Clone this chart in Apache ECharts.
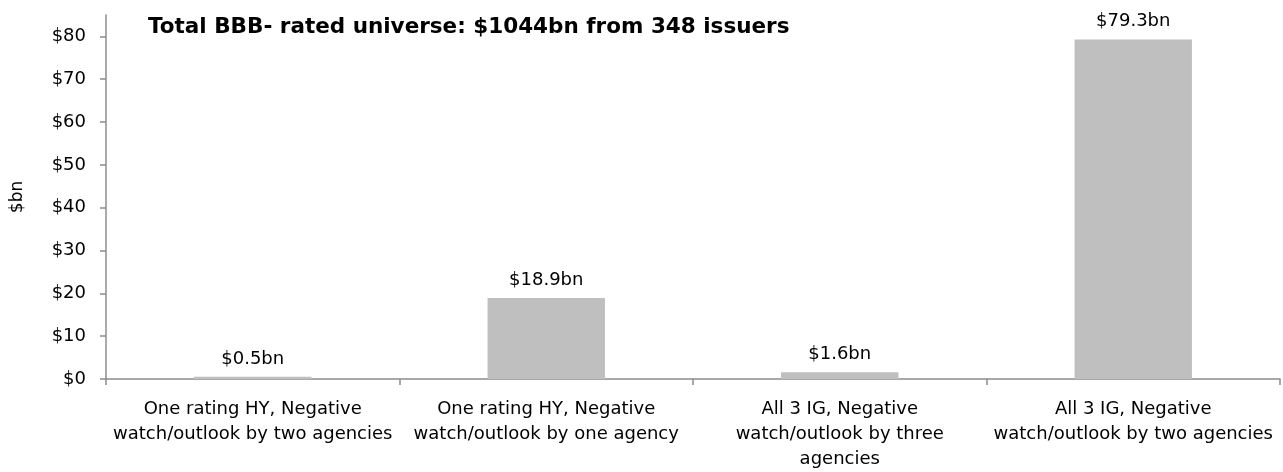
<!DOCTYPE html>
<html>
<head>
<meta charset="utf-8">
<script src="https://cdn.jsdelivr.net/npm/echarts@6/dist/echarts.min.js"></script>
<style>
  html, body { margin: 0; padding: 0; background: #fff; }
  #chart { width: 1283px; height: 472px; }
</style>
</head>
<body>
<div id="chart"></div>
<script>
// Categories of BBB- issuers and the debt outstanding in each bucket ($bn)
const categories = [
  'One rating HY, Negative\nwatch/outlook by two agencies',
  'One rating HY, Negative\nwatch/outlook by one agency',
  'All 3 IG, Negative\nwatch/outlook by three\nagencies',
  'All 3 IG, Negative\nwatch/outlook by two agencies'
];
const amounts = [0.5, 18.9, 1.6, 79.3];
const yTicks = [0, 10, 20, 30, 40, 50, 60, 70, 80];
const titleText = 'Total BBB- rated universe: $1044bn from 348 issuers';

const FONT = 'DejaVu Sans';
const chart = echarts.init(document.getElementById('chart'));
chart.setOption({
  animation: false,
  backgroundColor: '#fff',
  textStyle: { fontFamily: FONT },
  title: {
    text: titleText,
    left: 143,
    top: 11,
    textStyle: { fontFamily: FONT, fontWeight: 'bold', fontSize: 21.5, color: '#000' }
  },
  grid: { left: 106, right: 3, top: 15, bottom: 92 },
  xAxis: {
    type: 'category',
    data: categories,
    axisLine: { lineStyle: { color: '#8c8c8c', width: 1.5 } },
    axisTick: { show: true, length: 6, lineStyle: { color: '#8c8c8c', width: 1.5 } },
    axisLabel: {
      interval: 0,
      color: '#000',
      fontFamily: FONT,
      fontSize: 18,
      lineHeight: 25,
      margin: 18
    }
  },
  yAxis: {
    type: 'value',
    min: 0,
    max: 85,
    interval: 10,
    name: '$bn',
    nameLocation: 'middle',
    nameRotate: 90,
    nameGap: 80,
    nameTextStyle: { color: '#000', fontFamily: FONT, fontSize: 17 },
    splitLine: { show: false },
    axisLine: { show: true, lineStyle: { color: '#8c8c8c', width: 1.5 } },
    axisTick: { show: true, length: 6, lineStyle: { color: '#8c8c8c', width: 1.5 }, customValues: yTicks },
    axisLabel: {
      color: '#000',
      fontFamily: FONT,
      fontSize: 18,
      margin: 20,
      customValues: yTicks,
      formatter: v => '$' + v
    }
  },
  series: [{
    type: 'bar',
    data: amounts,
    barCategoryGap: '60%',
    itemStyle: { color: '#bfbfbf' },
    label: {
      show: true,
      position: 'top',
      distance: 9,
      color: '#000',
      fontFamily: FONT,
      fontSize: 18,
      formatter: p => '$' + p.value.toFixed(1) + 'bn'
    }
  }]
});
</script>
</body>
</html>
